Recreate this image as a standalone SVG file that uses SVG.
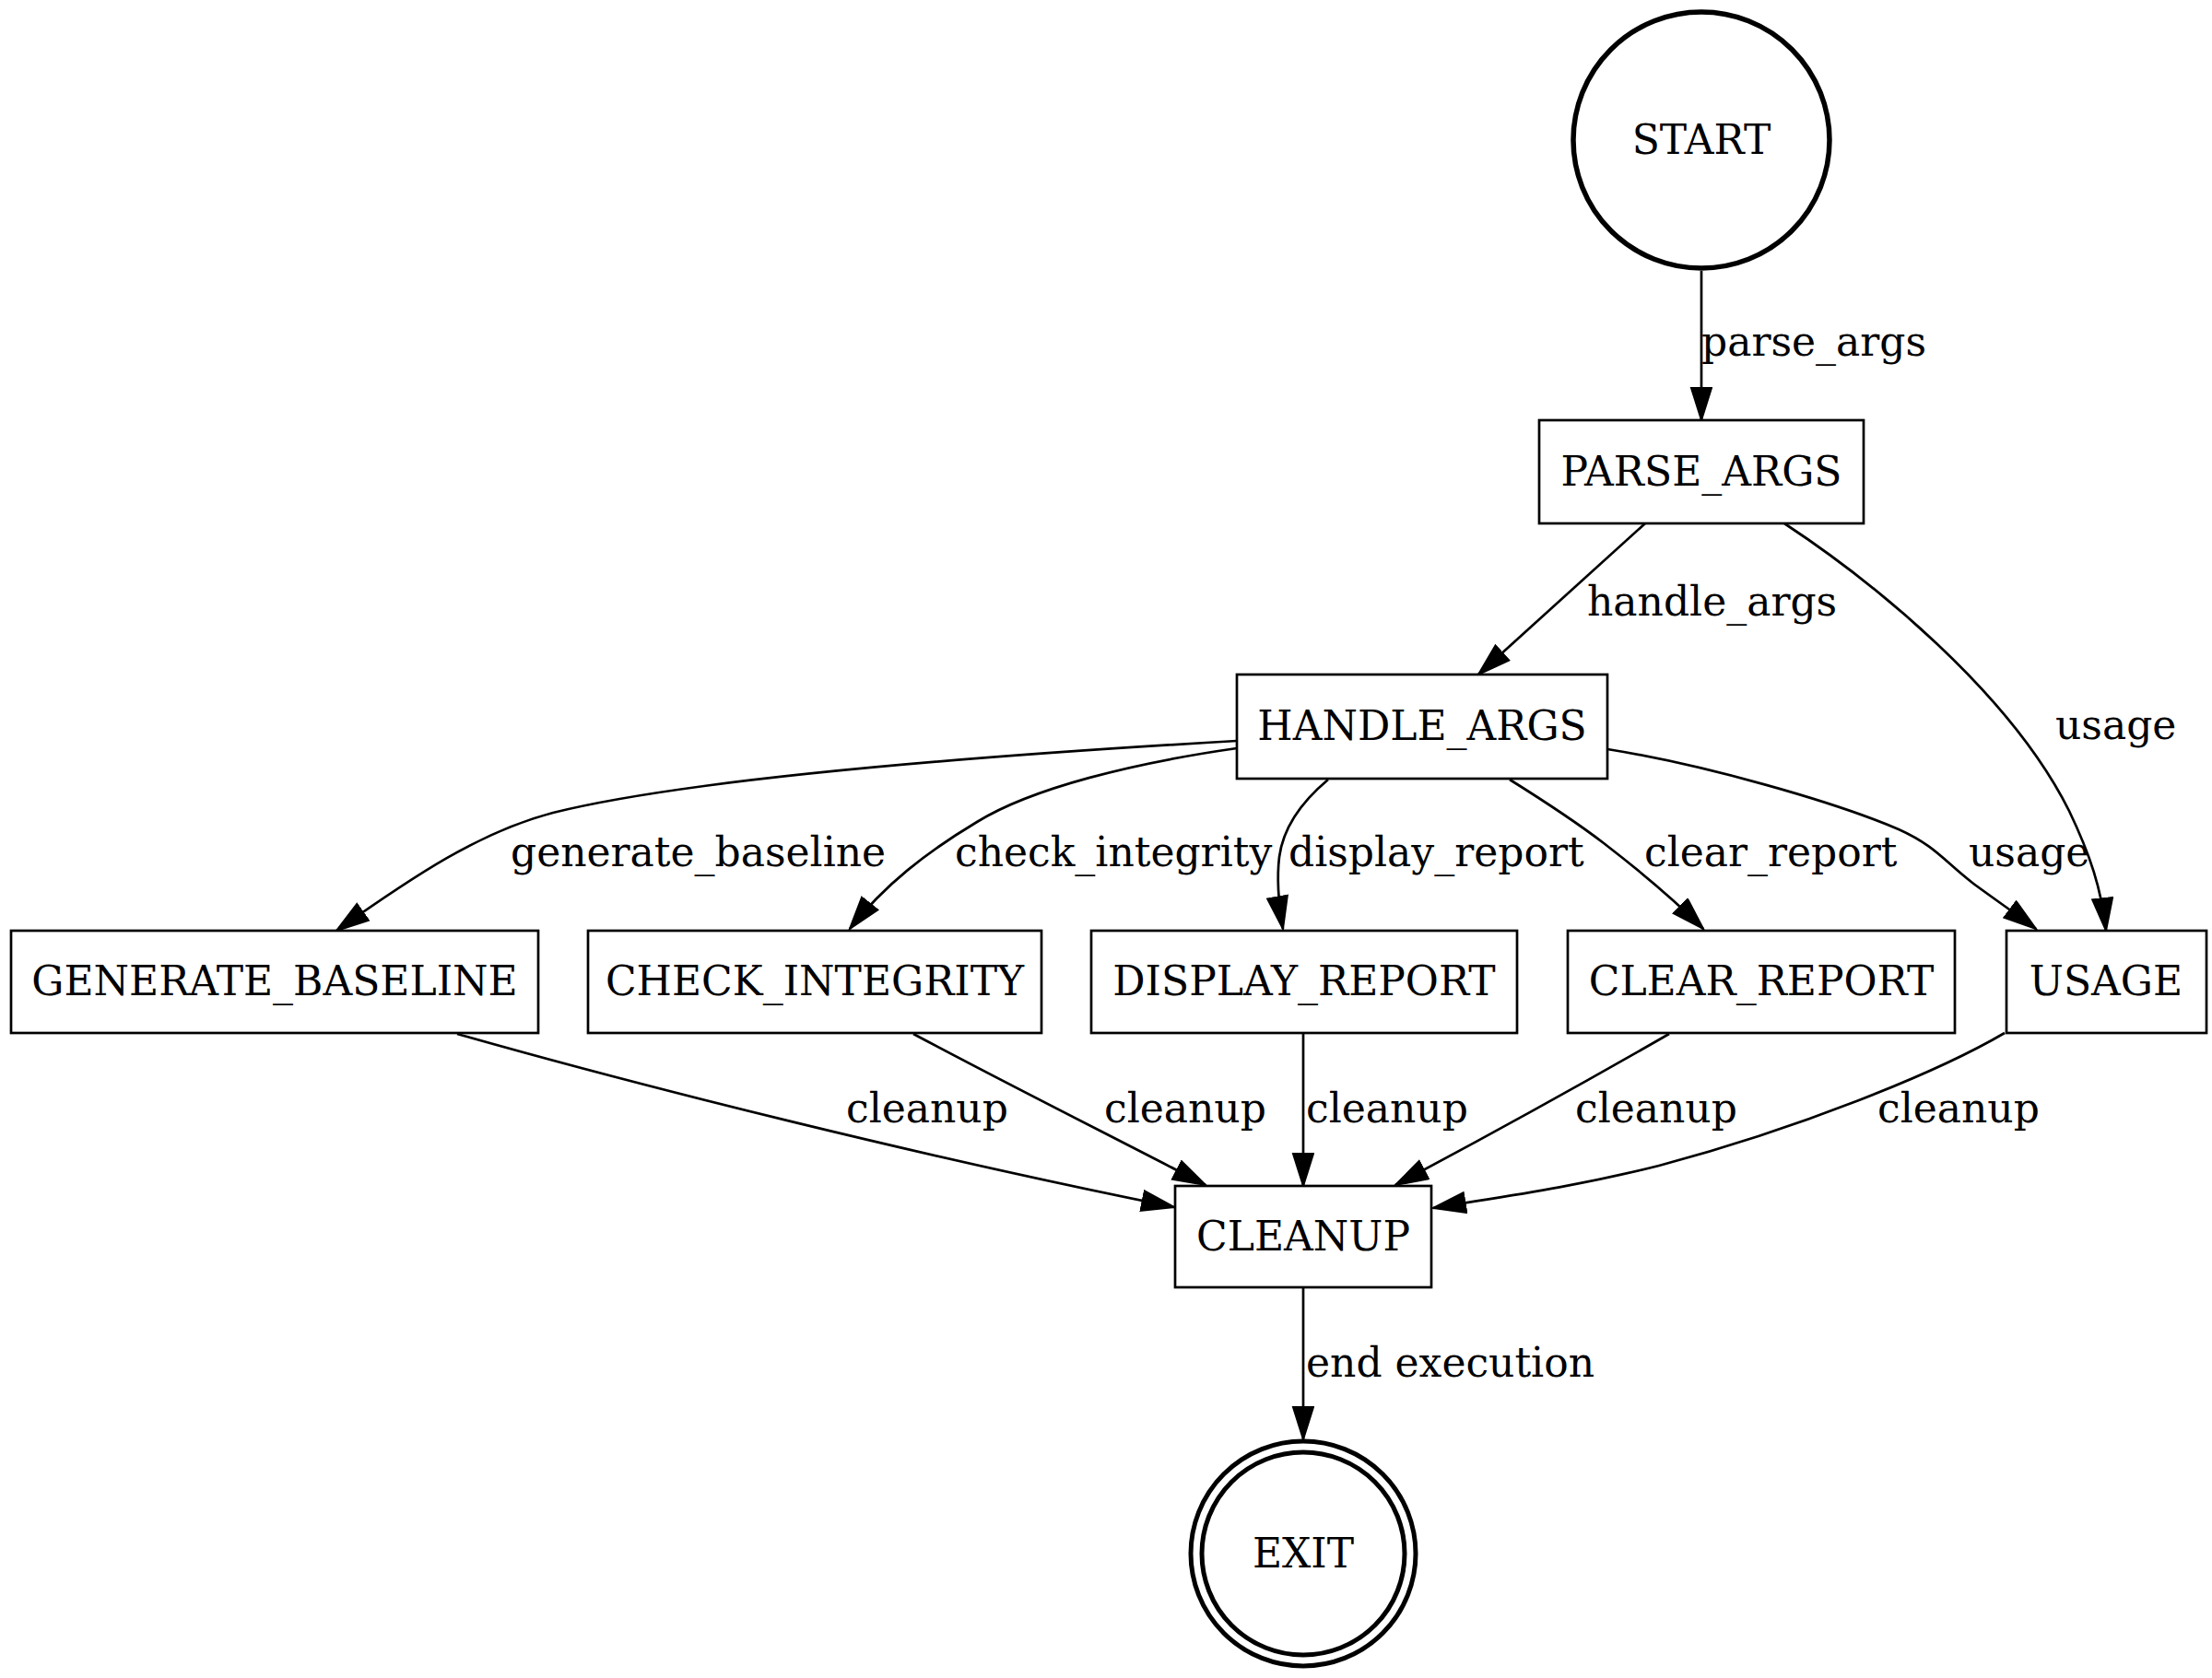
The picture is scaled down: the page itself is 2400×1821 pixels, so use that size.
<svg xmlns="http://www.w3.org/2000/svg" width="2400" height="1821" viewBox="0 0 2400 1821">
<style>
  .n { fill: #fff; stroke: #000; stroke-width: 2.7; }
  .t { font-family: "DejaVu Serif", "Liberation Serif", serif; font-size: 44px; fill: #000; text-anchor: middle; }
  .l { font-family: "DejaVu Serif", "Liberation Serif", serif; font-size: 44px; fill: #000; text-anchor: start; }
  .e { fill: none; stroke: #000; stroke-width: 2.7; marker-end: url(#arr); }
</style>
<defs>
  <marker id="arr" markerUnits="userSpaceOnUse" markerWidth="40" markerHeight="30" refX="36" refY="12" orient="auto">
    <path d="M1,1 L36,12 L1,23 z" fill="#000" stroke="#000" stroke-width="2"/>
  </marker>
</defs>
<rect width="2400" height="1821" fill="#fff"/>
<g id="connectors">
  <g id="e_start_parse"><path class="e" d="M1846 294 L1846 456"/><text class="l" x="1846" y="386">parse_args</text></g>
  <g id="e_parse_handle"><path class="e" d="M1785 568 L1604 732"/><text class="l" x="1722" y="668">handle_args</text></g>
  <g id="e_parse_usage"><path class="e" d="M1936 568 C2030 630 2180 750 2245 880 C2268 928 2280 965 2285 1010"/><text class="l" x="2230" y="802">usage</text></g>
  <g id="e_handle_gen"><path class="e" d="M1342 804 C1100 818 760 842 600 882 C520 903 450 950 365 1010"/><text class="l" x="554" y="940">generate_baseline</text></g>
  <g id="e_handle_check"><path class="e" d="M1342 812 C1230 828 1120 855 1060 892 C1005 925 960 960 922 1008"/><text class="l" x="1036" y="940">check_integrity</text></g>
  <g id="e_handle_display"><path class="e" d="M1441 846 C1410 872 1392 900 1388 930 C1385 955 1388 985 1392 1008"/><text class="l" x="1398" y="940">display_report</text></g>
  <g id="e_handle_clear"><path class="e" d="M1638 846 C1670 866 1710 892 1740 915 C1775 942 1815 975 1848 1008"/><text class="l" x="1784" y="940">clear_report</text></g>
  <g id="e_handle_usage"><path class="e" d="M1744 813 C1850 830 1990 870 2060 900 C2100 918 2110 935 2140 958 C2160 973 2185 990 2209 1008"/><text class="l" x="2136" y="940">usage</text></g>
  <g id="e_gen_cleanup"><path class="e" d="M496 1122 C700 1180 1000 1255 1274 1310"/><text class="l" x="918" y="1218">cleanup</text></g>
  <g id="e_check_cleanup"><path class="e" d="M991 1122 C1090 1175 1200 1230 1308 1286"/><text class="l" x="1198" y="1218">cleanup</text></g>
  <g id="e_display_cleanup"><path class="e" d="M1414 1121 L1414 1287"/><text class="l" x="1417" y="1218">cleanup</text></g>
  <g id="e_clear_cleanup"><path class="e" d="M1811 1122 C1710 1180 1610 1235 1514 1286"/><text class="l" x="1709" y="1218">cleanup</text></g>
  <g id="e_usage_cleanup"><path class="e" d="M2175 1121 C2100 1165 1950 1225 1800 1265 C1700 1290 1620 1300 1555 1311"/><text class="l" x="2037" y="1218">cleanup</text></g>
  <g id="e_cleanup_exit"><path class="e" d="M1414 1397 L1414 1562"/><text class="l" x="1417" y="1494">end execution</text></g>
</g>
<g id="START"><circle cx="1846" cy="152" r="139" fill="#fff" stroke="#000" stroke-width="5.5"/><text class="t" x="1846" y="167">START</text></g>
<g id="PARSE_ARGS"><rect class="n" x="1670" y="456" width="352" height="112"/><text class="t" x="1846" y="527">PARSE_ARGS</text></g>
<g id="HANDLE_ARGS"><rect class="n" x="1342" y="732" width="402" height="113"/><text class="t" x="1543" y="803">HANDLE_ARGS</text></g>
<g id="GENERATE_BASELINE"><rect class="n" x="12" y="1010" width="572" height="111"/><text class="t" x="298" y="1080">GENERATE_BASELINE</text></g>
<g id="CHECK_INTEGRITY"><rect class="n" x="638" y="1010" width="492" height="111"/><text class="t" x="884" y="1080">CHECK_INTEGRITY</text></g>
<g id="DISPLAY_REPORT"><rect class="n" x="1184" y="1010" width="462" height="111"/><text class="t" x="1415" y="1080">DISPLAY_REPORT</text></g>
<g id="CLEAR_REPORT"><rect class="n" x="1701" y="1010" width="420" height="111"/><text class="t" x="1911" y="1080">CLEAR_REPORT</text></g>
<g id="USAGE"><rect class="n" x="2177" y="1010" width="217" height="111"/><text class="t" x="2285" y="1080">USAGE</text></g>
<g id="CLEANUP"><rect class="n" x="1275" y="1287" width="278" height="110"/><text class="t" x="1414" y="1357">CLEANUP</text></g>
<g id="EXIT"><circle cx="1414" cy="1686" r="122" fill="#fff" stroke="#000" stroke-width="5"/><circle cx="1414" cy="1686" r="110" fill="none" stroke="#000" stroke-width="5"/><text class="t" x="1414" y="1701">EXIT</text></g>
</svg>
